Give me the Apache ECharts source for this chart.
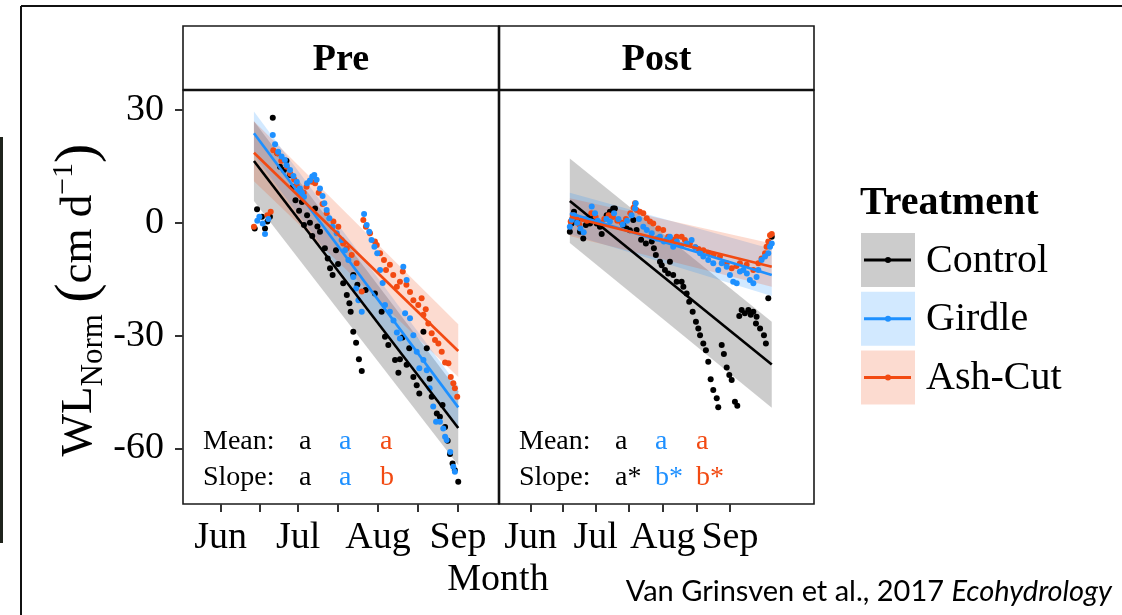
<!DOCTYPE html>
<html><head><meta charset="utf-8">
<script src="https://cdn.jsdelivr.net/npm/echarts@6/dist/echarts.min.js"></script>
<style>html,body{margin:0;padding:0;background:#fff}#c{width:1122px;height:615px}</style>
</head><body><div id="c"></div><script>
// ---- categories / labels ----
const panels = ['Pre', 'Post'];
const treatments = ['Control', 'Girdle', 'Ash-Cut'];
const colors = ['#000000', '#1E90FF', '#F24A12'];
const monthLabels = ['Jun', 'Jul', 'Aug', 'Sep'];
const monthDays = [0, 30, 61, 92];          // days since Jun 1
const minorDays = [15, 45.5, 76.5];
const yTicks = [-60, -30, 0, 30];
const meanLetters = [['a', 'a', 'a'], ['a', 'a', 'a']];
const slopeLetters = [['a', 'a', 'b'], ['a*', 'b*', 'b*']];

// ---- points [day since Jun 1, WL_Norm] ----
const preControl = [[13.2,-1.5],[14.1,3.6],[16.0,1.6],[17.2,-1.5],[18.1,0.3],[19.1,1.6],[20.2,27.9],[22.0,18.5],[23.0,14.9],[24.5,14.0],[25.5,16.5],[26.9,12.7],[28.0,9.5],[29.0,6.0],[30.4,3.2],[31.5,5.5],[32.3,-0.6],[33.5,2.0],[34.6,0.0],[35.5,-3.5],[36.6,3.8],[37.5,-1.0],[38.5,-2.4],[40.4,-6.8],[41.5,-9.5],[42.4,-12.1],[43.4,-13.9],[44.7,-7.3],[45.5,-11.0],[47.5,-16.1],[48.9,-19.2],[49.9,-21.4],[50.4,-23.7],[51.4,-29.0],[52.5,-31.9],[53.6,-36.3],[54.7,-39.4],[51.4,-13.9],[53.0,-16.5],[56.2,-17.9],[59.8,-18.8],[62.4,-23.7],[63.7,-30.3],[65.0,-32.5],[67.6,-36.5],[68.9,-39.9],[69.5,-36.3],[70.5,-30.5],[72.1,-37.8],[73.1,-33.4],[74.7,-41.0],[76.0,-43.2],[77.0,-45.4],[78.6,-29.0],[79.9,-33.4],[81.0,-41.5],[81.8,-46.3],[83.8,-50.7],[85.0,-51.6],[86.0,-48.5],[87.0,-54.3],[88.0,-58.0],[88.9,-61.5],[89.9,-64.0],[90.8,-65.8],[92.1,-68.9]];
const preGirdle = [[14.2,0.5],[15.0,1.6],[16.3,-0.2],[17.2,-3.0],[18.5,1.0],[20.2,23.3],[21.1,20.9],[22.3,18.9],[23.6,17.6],[24.9,16.7],[25.6,15.3],[26.9,14.0],[28.2,12.4],[29.5,10.9],[30.7,9.1],[31.5,8.0],[32.3,6.9],[33.5,10.5],[34.6,11.2],[35.5,12.3],[36.3,12.7],[37.2,11.4],[38.5,9.1],[39.5,7.1],[40.2,5.2],[41.1,3.4],[42.1,1.2],[43.4,-1.1],[45.0,-2.8],[46.9,-4.6],[48.2,-7.3],[49.5,-9.9],[51.4,-14.4],[52.5,-17.5],[53.4,-20.6],[54.7,-23.7],[55.6,2.3],[56.6,-0.6],[57.6,-2.4],[58.5,-4.6],[59.6,-6.4],[60.7,-8.1],[61.8,-12.6],[62.8,-16.0],[63.7,-21.9],[65.6,-23.7],[67.0,-26.0],[68.3,-29.2],[69.5,-30.8],[70.8,-11.7],[72.1,-15.2],[71.5,-24.1],[73.4,-25.4],[74.7,-29.9],[76.0,-34.3],[77.0,-38.7],[78.6,-36.5],[79.9,-39.2],[81.0,-44.0],[82.4,-48.9],[83.5,-52.9],[85.0,-52.9],[86.3,-54.7],[87.0,-56.9],[87.6,-57.8],[89.0,-61.0],[90.2,-64.9],[90.8,-66.2]];
const preAshCut = [[12.9,-1.1],[18.1,2.0],[19.4,2.9],[20.4,19.3],[21.9,18.5],[23.5,16.5],[25.6,14.9],[27.0,13.0],[28.5,11.5],[29.5,10.0],[31.0,8.5],[32.2,8.0],[33.3,9.6],[35.3,10.9],[36.6,10.5],[38.0,8.0],[39.5,5.0],[41.1,2.5],[43.7,0.3],[45.6,-1.1],[47.5,-5.5],[48.9,-6.8],[50.8,-8.6],[52.7,-10.8],[54.7,-18.3],[55.3,0.7],[56.3,-1.1],[57.9,-2.8],[59.8,-5.0],[60.5,-5.9],[61.8,-8.1],[63.3,-9.9],[64.1,-12.6],[65.6,-11.2],[66.9,-13.9],[68.3,-17.0],[69.5,-15.7],[70.6,-13.0],[72.0,-16.5],[73.4,-18.4],[74.7,-20.6],[76.6,-21.9],[77.9,-20.1],[78.6,-24.5],[79.5,-23.0],[80.5,-26.8],[81.8,-29.4],[83.1,-31.2],[84.4,-32.1],[85.7,-34.3],[87.0,-37.2],[88.3,-37.4],[89.2,-41.0],[90.2,-42.7],[90.8,-44.0],[91.7,-46.3]];
const postControl = [[18.1,-2.4],[18.9,-0.2],[20.0,2.9],[21.5,0.3],[22.8,-2.4],[24.3,-4.2],[25.5,-0.6],[27.4,-0.2],[28.9,2.0],[30.5,-0.2],[32.0,-1.1],[32.8,-3.0],[35.1,2.0],[36.6,2.9],[38.1,3.8],[38.9,3.8],[40.4,0.7],[42.8,-0.6],[44.3,-1.5],[45.8,-2.0],[47.4,0.7],[48.9,-1.9],[51.0,-4.5],[53.2,-5.5],[55.9,-5.0],[56.9,-6.8],[57.8,-8.6],[59.7,-10.4],[60.5,-11.3],[62.0,-12.6],[63.5,-13.5],[64.3,-10.4],[65.8,-13.9],[67.4,-15.7],[69.7,-15.7],[70.5,-17.0],[72.0,-18.8],[73.2,-21.0],[74.8,-23.7],[76.3,-26.3],[77.4,-28.1],[78.2,-29.9],[79.7,-32.1],[80.9,-33.9],[82.0,-37.0],[83.1,-41.6],[84.3,-44.5],[85.9,-46.7],[86.6,-49.1],[88.2,-32.5],[89.2,-34.9],[90.5,-38.5],[91.7,-40.5],[92.8,-41.8],[94.3,-47.6],[95.4,-48.7],[96.3,-24.8],[97.4,-23.2],[98.9,-24.1],[100.5,-23.2],[101.6,-24.5],[102.8,-23.7],[104.0,-26.8],[104.3,-25.0],[105.9,-28.1],[107.7,-29.9],[108.6,-32.1],[109.7,-20.1],[111.3,-3.7]];
const postGirdle = [[18.1,-1.1],[19.0,0.8],[20.0,2.0],[21.5,0.0],[23.0,-1.5],[24.5,-2.5],[26.0,1.0],[28.2,4.3],[29.7,2.5],[31.0,0.5],[33.0,-0.5],[35.0,1.0],[36.6,0.3],[38.5,2.5],[40.5,1.0],[42.5,-0.5],[44.5,0.5],[46.6,2.0],[48.2,3.8],[48.5,5.2],[50.0,1.0],[52.0,-1.1],[53.6,-1.9],[55.9,-2.8],[58.2,-4.2],[59.7,-3.7],[61.5,-5.0],[62.8,-4.5],[64.3,-3.7],[65.8,-6.4],[67.5,-5.0],[69.5,-6.0],[72.0,-5.5],[74.3,-4.6],[76.0,-6.5],[78.2,-8.1],[79.7,-9.0],[82.0,-9.9],[84.3,-10.8],[86.6,-12.6],[88.2,-10.8],[90.5,-11.7],[92.0,-13.9],[93.5,-15.7],[95.1,-16.1],[96.6,-13.0],[98.2,-12.6],[99.8,-13.5],[101.2,-15.2],[102.8,-16.1],[104.3,-14.4],[105.1,-12.6],[106.6,-9.9],[108.2,-9.0],[109.7,-8.1],[110.5,-6.4],[111.3,-5.5]];
const postAshCut = [[18.5,0.3],[19.5,2.0],[21.0,1.5],[22.5,-0.5],[24.0,1.0],[26.0,0.5],[28.0,2.5],[30.0,1.5],[32.0,0.0],[34.0,1.0],[36.0,2.0],[38.0,1.5],[40.0,0.5],[42.0,0.0],[44.0,1.0],[46.0,2.5],[47.5,4.0],[48.2,5.2],[48.9,3.4],[50.4,2.9],[52.0,2.5],[53.6,1.2],[55.1,0.3],[56.6,-0.2],[58.9,-1.5],[61.2,-1.9],[63.5,-3.7],[65.5,-4.5],[67.4,-3.7],[69.7,-3.7],[71.2,-4.6],[73.5,-5.5],[76.0,-6.5],[77.5,-7.0],[79.7,-7.3],[82.0,-8.0],[84.5,-8.5],[87.4,-9.0],[90.5,-10.8],[92.8,-12.1],[95.0,-11.5],[96.6,-10.8],[99.7,-11.2],[102.8,-12.6],[105.1,-10.8],[106.6,-9.5],[108.2,-8.1],[108.9,-6.4],[109.7,-5.0],[110.5,-3.3],[111.3,-3.0]];

// ---- fitted lines and confidence bands (start / end) ----
const preFitDays = [12.9, 92.1];
const postFitDays = [18.1, 111.3];
const preFit   = [[16.4, -54.6], [23.8, -49.1], [18.6, -34.1]];
const preLo    = [[5.8, -64.5], [18.0, -54.8], [11.0, -41.0]];
const preHi    = [[27.0, -44.8], [29.6, -43.4], [27.0, -27.0]];
const postFit  = [[5.8, -37.7], [2.5, -13.9], [1.6, -11.7]];
const postLo   = [[-5.4, -49.2], [-3.0, -19.5], [-3.5, -17.0]];
const postHi   = [[17.1, -26.3], [8.0, -7.0], [6.5, -5.5]];

const pointsByPanel = [[preControl, preGirdle, preAshCut], [postControl, postGirdle, postAshCut]];
const fitDaysByPanel = [preFitDays, postFitDays];
const fitByPanel = [preFit, postFit];
const loByPanel = [preLo, postLo];
const hiByPanel = [preHi, postHi];

const SERIF = '"Liberation Serif", "DejaVu Serif", serif';

function rgba(hex, a) {
  const n = parseInt(hex.slice(1), 16);
  return 'rgba(' + ((n >> 16) & 255) + ',' + ((n >> 8) & 255) + ',' + (n & 255) + ',' + a + ')';
}

// ---- layout ----
const gridTop = 90, gridH = 414;
const gridLefts = [183, 499], gridWs = [316, 315];
const xMins = [-14.6, -14.6], xMaxs = [107.9, 130.8];
const yMin = -74.8, yMax = 35.3;

const chart = echarts.init(document.getElementById('c'), null, {renderer: 'canvas'});

const grids = [], xAxes = [], yAxes = [], series = [];
panels.forEach((p, pi) => {
  grids.push({left: gridLefts[pi], top: gridTop, width: gridWs[pi], height: gridH,
    show: true, borderColor: '#1a1a1a', borderWidth: 1.6, backgroundColor: '#fff'});
  xAxes.push({gridIndex: pi, type: 'value', min: xMins[pi], max: xMaxs[pi], position: 'bottom',
    axisLine: {show: false, onZero: false}, splitLine: {show: false},
    axisTick: {show: true, inside: false, customValues: monthDays.concat(minorDays), length: 8, lineStyle: {color: '#333', width: 2}},
    axisLabel: {show: true, customValues: monthDays, margin: 15,
      formatter: v => monthLabels[monthDays.indexOf(v)],
      fontFamily: SERIF, fontSize: 38, color: '#000'}});
  yAxes.push({gridIndex: pi, type: 'value', min: yMin, max: yMax, position: 'left',
    axisLine: {show: false, onZero: false}, splitLine: {show: false},
    axisTick: {show: pi === 0, inside: false, customValues: yTicks, length: 8, lineStyle: {color: '#333', width: 2}},
    axisLabel: {show: pi === 0, customValues: yTicks, margin: 19,
      fontFamily: SERIF, fontSize: 38, color: '#000'}});
});

// points first
panels.forEach((p, pi) => {
  [0, 2, 1].forEach(ti => {
    series.push({type: 'scatter', name: treatments[ti], xAxisIndex: pi, yAxisIndex: pi,
      data: pointsByPanel[pi][ti], symbolSize: 6, silent: true,
      itemStyle: {color: colors[ti], opacity: 1}});
  });
});
// then band + line per treatment
panels.forEach((p, pi) => {
  treatments.forEach((t, ti) => {
    const days = fitDaysByPanel[pi];
    const lo = loByPanel[pi][ti], hi = hiByPanel[pi][ti];
    series.push({type: 'custom', xAxisIndex: pi, yAxisIndex: pi, silent: true,
      data: days.map((d, i) => [d, lo[i], hi[i]]),
      encode: {x: 0, y: [1, 2]},
      renderItem: function (params, api) {
        if (params.dataIndex !== 0) return;
        const pts = [];
        for (let i = 0; i < days.length; i++) pts.push(api.coord([days[i], lo[i]]));
        for (let i = days.length - 1; i >= 0; i--) pts.push(api.coord([days[i], hi[i]]));
        return {type: 'polygon', shape: {points: pts}, style: {fill: rgba(colors[ti], 0.2)}};
      }});
    series.push({type: 'line', xAxisIndex: pi, yAxisIndex: pi, silent: true,
      data: days.map((d, i) => [d, fitByPanel[pi][ti][i]]),
      showSymbol: false, lineStyle: {color: colors[ti], width: 2.6}});
  });
});

// ---- graphics: frame, strips, titles, annotations, legend ----
const graphic = [];
graphic.push({type: 'line', shape: {x1: 21, y1: 6, x2: 1122, y2: 6}, style: {stroke: '#111', lineWidth: 2}});
graphic.push({type: 'line', shape: {x1: 21, y1: 6, x2: 21, y2: 615}, style: {stroke: '#111', lineWidth: 2}});
graphic.push({type: 'rect', shape: {x: 0, y: 137, width: 3, height: 406}, style: {fill: '#1f231c'}});

panels.forEach((p, pi) => {
  graphic.push({type: 'rect', shape: {x: gridLefts[pi], y: 26, width: gridWs[pi], height: 64},
    style: {fill: '#fff', stroke: '#1a1a1a', lineWidth: 1.6}});
  graphic.push({type: 'text', x: gridLefts[pi] + gridWs[pi] / 2, y: 60,
    style: {text: p, font: 'bold 38px ' + SERIF, fill: '#000', align: 'center', verticalAlign: 'middle'}});
  // annotations
  const L = gridLefts[pi];
  graphic.push({type: 'text', x: L + 20, y: 442, style: {text: 'Mean:', font: '28px ' + SERIF, fill: '#000', verticalAlign: 'middle'}});
  graphic.push({type: 'text', x: L + 20, y: 478, style: {text: 'Slope:', font: '28px ' + SERIF, fill: '#000', verticalAlign: 'middle'}});
  const offs = [116, 156, 197];
  treatments.forEach((t, ti) => {
    graphic.push({type: 'text', x: L + offs[ti], y: 442, style: {text: meanLetters[pi][ti], font: '28px ' + SERIF, fill: colors[ti], verticalAlign: 'middle'}});
    graphic.push({type: 'text', x: L + offs[ti], y: 478, style: {text: slopeLetters[pi][ti], font: '28px ' + SERIF, fill: colors[ti], verticalAlign: 'middle'}});
  });
});
// panel border lines drawn thick
graphic.push({type: 'line', shape: {x1: 183, y1: 90, x2: 814, y2: 90}, style: {stroke: '#111', lineWidth: 2.6}, z: 100});
graphic.push({type: 'line', shape: {x1: 499, y1: 26, x2: 499, y2: 504}, style: {stroke: '#111', lineWidth: 2.6}, z: 100});

// axis titles
graphic.push({type: 'text', x: 498, y: 580,
  style: {text: 'Month', font: '38px ' + SERIF, fill: '#000', align: 'center', verticalAlign: 'middle'}});
graphic.push({type: 'text', x: 79, y: 300, rotation: Math.PI / 2,
  style: {text: '{b|WL}{s|Norm}{b| }{p|(}{b|cm d}{u|\u22121}{p|)}', align: 'center', verticalAlign: 'middle', fill: '#000',
    rich: {
      b: {fontFamily: SERIF, fontSize: 45, lineHeight: 60, verticalAlign: 'middle', fill: '#000'},
      s: {fontFamily: SERIF, fontSize: 31, lineHeight: 31, verticalAlign: 'bottom', fill: '#000'},
      u: {fontFamily: SERIF, fontSize: 30, lineHeight: 36, verticalAlign: 'top', fill: '#000'},
      p: {fontFamily: SERIF, fontSize: 58, lineHeight: 60, verticalAlign: 'middle', fill: '#000'}
    }}});

// legend
graphic.push({type: 'text', x: 860, y: 204,
  style: {text: 'Treatment', font: 'bold 40px ' + SERIF, fill: '#000', verticalAlign: 'middle'}});
treatments.forEach((t, ti) => {
  const top = 233 + ti * 58.8, cy = top + 27;
  graphic.push({type: 'rect', shape: {x: 861, y: top, width: 54, height: 54}, style: {fill: rgba(colors[ti], 0.2)}});
  graphic.push({type: 'line', shape: {x1: 864, y1: cy, x2: 911, y2: cy}, style: {stroke: colors[ti], lineWidth: 3}});
  graphic.push({type: 'circle', shape: {cx: 888, cy: cy, r: 3}, style: {fill: colors[ti]}});
  graphic.push({type: 'text', x: 926, y: cy + 1,
    style: {text: t, font: '40px ' + SERIF, fill: '#000', verticalAlign: 'middle'}});
});

// citation
graphic.push({type: 'text', x: 1112, y: 592,
  style: {text: '{n|Van Grinsven et al., 2017 }{i|Ecohydrology}', align: 'right', verticalAlign: 'middle',
    rich: {n: {fontFamily: 'Lato, "Open Sans", sans-serif', fontSize: 29, fill: '#000'},
           i: {fontFamily: 'Lato, "Open Sans", sans-serif', fontSize: 29, fontStyle: 'italic', fill: '#000'}}}});

chart.setOption({
  animation: false,
  backgroundColor: '#fff',
  grid: grids, xAxis: xAxes, yAxis: yAxes, series: series, graphic: graphic
});
</script></body></html>
